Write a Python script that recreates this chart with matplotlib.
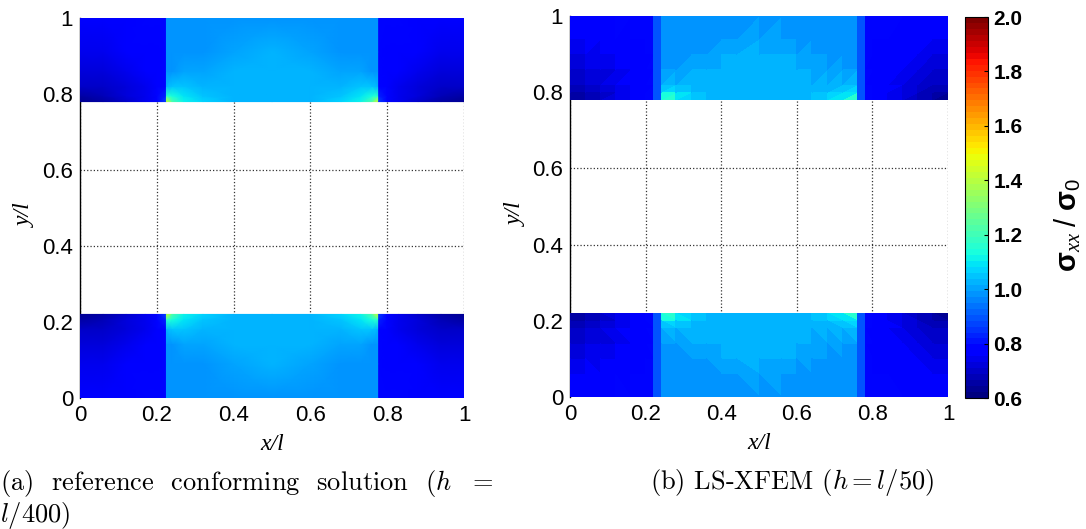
import numpy as np
import matplotlib.pyplot as plt
import matplotlib.tri as mtri
from matplotlib.colors import Normalize
from matplotlib.cm import ScalarMappable

plt.rcParams['font.family'] = ['Liberation Sans', 'DejaVu Sans']
plt.rcParams['mathtext.fontset'] = 'custom'
plt.rcParams['mathtext.rm'] = 'Liberation Sans'
plt.rcParams['mathtext.bf'] = 'Liberation Sans:bold'
plt.rcParams['mathtext.it'] = 'Liberation Serif:italic'

# sigma_xx / sigma_0 at nodes of the upper strip, left half.
# rows = distance from the inner edge of the strip (y=0.78 top, y=0.22 bottom)
# right half and lower strip are mirror images
d_ref = [0, 0.015, 0.04, 0.08, 0.13, 0.22]
x_ref_mat = [0, 0.06, 0.12, 0.17, 0.2, 0.225]
x_ref_inc = [0.225, 0.24, 0.27, 0.32, 0.4, 0.5]
s_ref_mat = [[0.64, 0.66, 0.70, 0.75, 0.79, 0.88],
             [0.66, 0.68, 0.71, 0.75, 0.78, 0.82],
             [0.69, 0.70, 0.72, 0.75, 0.77, 0.79],
             [0.72, 0.73, 0.74, 0.76, 0.77, 0.78],
             [0.75, 0.75, 0.76, 0.77, 0.77, 0.78],
             [0.77, 0.77, 0.77, 0.78, 0.78, 0.78]]
s_ref_inc = [[1.45, 1.22, 1.12, 1.06, 1.03, 1.02],
             [1.15, 1.13, 1.09, 1.05, 1.03, 1.02],
             [1.02, 1.04, 1.04, 1.03, 1.02, 1.02],
             [0.99, 0.99, 1.00, 1.01, 1.02, 1.02],
             [0.98, 0.98, 0.98, 0.99, 1.00, 1.02],
             [0.98, 0.98, 0.98, 0.98, 0.98, 0.99]]

d_xfem = [0, 0.02, 0.04, 0.08, 0.12, 0.16, 0.22]
x_xfem_mat = [0, 0.04, 0.08, 0.12, 0.16, 0.2, 0.22]
x_xfem_inc = [0.24, 0.28, 0.32, 0.36, 0.4, 0.44, 0.5]
s_xfem_mat = [[0.63, 0.65, 0.68, 0.72, 0.75, 0.78, 0.82],
              [0.65, 0.67, 0.70, 0.73, 0.76, 0.77, 0.79],
              [0.68, 0.69, 0.71, 0.74, 0.76, 0.77, 0.78],
              [0.71, 0.72, 0.73, 0.75, 0.76, 0.77, 0.78],
              [0.73, 0.74, 0.75, 0.76, 0.77, 0.77, 0.78],
              [0.75, 0.76, 0.76, 0.77, 0.77, 0.78, 0.78],
              [0.77, 0.77, 0.77, 0.78, 0.78, 0.78, 0.78]]
s_xfem_inc = [[1.25, 1.12, 1.07, 1.04, 1.03, 1.02, 1.02],
              [1.10, 1.08, 1.05, 1.03, 1.03, 1.02, 1.02],
              [1.03, 1.03, 1.03, 1.02, 1.02, 1.02, 1.02],
              [0.99, 1.00, 1.01, 1.01, 1.02, 1.02, 1.02],
              [0.98, 0.98, 0.99, 1.00, 1.01, 1.02, 1.02],
              [0.98, 0.98, 0.98, 0.98, 0.99, 1.00, 1.01],
              [0.98, 0.98, 0.98, 0.98, 0.98, 0.98, 0.99]]
# elements cut by the interface (0.22-0.24 and 0.76-0.78)
x_cut = [0.22, 0.24]
s_cut = 0.90

ticks = [0, 0.2, 0.4, 0.6, 0.8, 1]
tick_labels = ['0', '0.2', '0.4', '0.6', '0.8', '1']
cb_ticks = [0.6, 0.8, 1.0, 1.2, 1.4, 1.6, 1.8, 2.0]

cmap = plt.get_cmap('jet', 64)
norm = Normalize(0.6, 2.0)


def regions(x, d, s, centre=False):
    """Yield (X, Y, S) node grids for every piece of both strips."""
    x = np.asarray(x, float)
    d = np.asarray(d, float)
    s = np.asarray(s, float)
    if centre:
        # inclusion: left half + mirrored right half, shared centre column
        xs = [np.concatenate([x, 1 - x[::-1][1:]])]
        ss = [np.hstack([s, s[:, ::-1][:, 1:]])]
    else:
        xs = [x, 1 - x[::-1]]
        ss = [s, s[:, ::-1]]
    for xx, sv in zip(xs, ss):
        for y in (0.78 + d, 0.22 - d):
            X, Y = np.meshgrid(xx, y)
            yield X, Y, sv


def grid_triangles(nx, ny):
    tris = []
    for j in range(ny - 1):
        for i in range(nx - 1):
            a = j * nx + i
            b, c = a + 1, a + nx
            tris += [[a, b, c + 1], [a, c + 1, c]]
    return tris


fig = plt.figure(figsize=(10.86, 5.29), dpi=100)
ax1 = fig.add_axes([0.0737, 0.2476, 0.3536, 0.7184])
ax2 = fig.add_axes([0.5249, 0.2495, 0.3481, 0.7203])
cax = fig.add_axes([0.8886, 0.2476, 0.0212, 0.7202])

# (a) conforming mesh, smooth field
for x, s, c in [(x_ref_mat, s_ref_mat, False), (x_ref_inc, s_ref_inc, True)]:
    for X, Y, S in regions(x, d_ref, s, c):
        ax1.pcolormesh(X, Y, S, shading='gouraud', cmap=cmap, norm=norm)

# (b) LS-XFEM, piecewise constant on triangles
for x, s, c in [(x_xfem_mat, s_xfem_mat, False), (x_xfem_inc, s_xfem_inc, True)]:
    for X, Y, S in regions(x, d_xfem, s, c):
        ny, nx = X.shape
        tri = mtri.Triangulation(X.ravel(), Y.ravel(), grid_triangles(nx, ny))
        ax2.tripcolor(tri, S.ravel(), shading='flat', cmap=cmap, norm=norm,
                      edgecolors='none', antialiased=False)
for xc in (x_cut, [1 - x_cut[1], 1 - x_cut[0]]):
    for yb in ([0.78, 1.0], [0.0, 0.22]):
        ax2.pcolormesh(xc, yb, [[s_cut]], cmap=cmap, norm=norm,
                       edgecolors='none', antialiased=False)

for ax in (ax1, ax2):
    ax.set_xlim(0, 1)
    ax.set_ylim(0, 1)
    ax.set_xticks(ticks)
    ax.set_xticklabels(tick_labels)
    ax.set_yticks(ticks)
    ax.set_yticklabels(tick_labels)
    ax.tick_params(length=0, labelsize=16, pad=5)
    ax.set_axisbelow(True)
    ax.grid(True, linestyle=':', color='#333333', linewidth=0.9)
    for side in ('top', 'right', 'bottom'):
        ax.spines[side].set_visible(False)
    ax.spines['left'].set_zorder(0.6)
    ax.spines['left'].set_linewidth(1.0)
    ax.set_xlabel('x/l', family='Liberation Serif', style='italic', fontsize=17)
    ax.set_ylabel('y/l', family='Liberation Serif', style='italic', fontsize=17)
    ax.xaxis.set_label_coords(0.5, -0.095)
    ax.yaxis.set_label_coords(-0.115, 0.48)

cb = fig.colorbar(ScalarMappable(norm=norm, cmap=cmap), cax=cax, ticks=cb_ticks)
cb.outline.set_linewidth(0.8)
cb.ax.tick_params(direction='in', length=3, labelsize=15, pad=4)
cb.ax.set_yticklabels(['%.1f' % t for t in cb_ticks], fontweight='bold')
fig.text(0.983, 0.575, r'$\mathbf{\sigma}_{\mathit{xx}}\ \mathrm{/}\ \mathbf{\sigma}_{\mathit{0}}$',
         rotation=90, fontsize=21, ha='center', va='center')

cap = dict(family='cmr10', fontsize=19, math_fontfamily='cm', va='baseline')
fig.text(0.0, 1 - 490 / 529,
         r'(a)  reference  conforming  solution  ($h$  $=$', **cap)
fig.text(0.0, 1 - 522 / 529, r'$l/400$)', **cap)
fig.text(650 / 1086, 1 - 489 / 529, r'(b) LS-XFEM ($h = l/50$)', **cap)

fig.savefig('out.png', dpi=100)
